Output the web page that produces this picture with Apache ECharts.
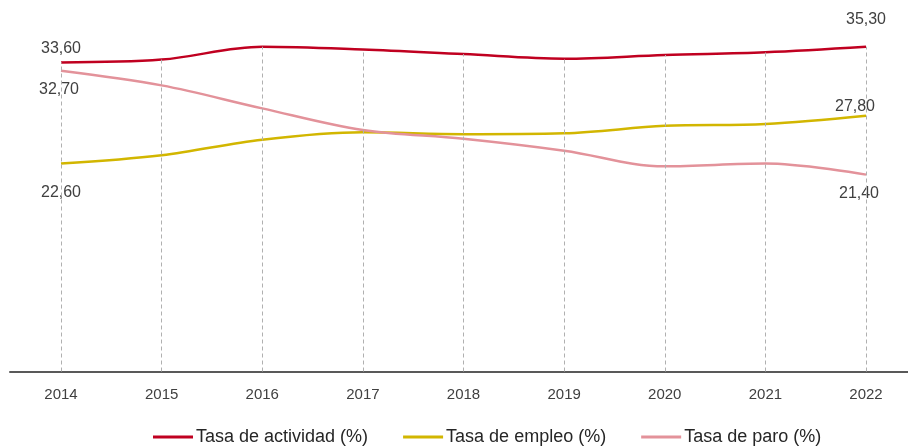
<!DOCTYPE html>
<html><head><meta charset="utf-8">
<script src="https://cdn.jsdelivr.net/npm/echarts@6/dist/echarts.min.js"></script>
<style>html,body{margin:0;padding:0;background:#fff}#c{width:908px;height:448px}</style>
</head><body><div id="c"></div>
<script>
const years = ['2014','2015','2016','2017','2018','2019','2020','2021','2022'];
const actividad = [33.6, 33.9, 35.3, 35.0, 34.5, 34.0, 34.4, 34.7, 35.3];
const empleo    = [22.6, 23.5, 25.2, 26.0, 25.8, 25.9, 26.7, 26.9, 27.8];
const paro      = [32.7, 31.1, 28.6, 26.25, 25.3, 24.0, 22.3, 22.6, 21.4];
const names = ['Tasa de actividad (%)', 'Tasa de empleo (%)', 'Tasa de paro (%)'];
const colors = ['#C00020', '#D2B600', '#E3929A'];

const FONT = '"Liberation Sans Narrow", "Arial Narrow", "Liberation Sans", Arial, sans-serif';
const fmt = v => v.toFixed(2).replace('.', ',');

function withLabels(arr, first, last) {
  return arr.map((v, i) => {
    if (i === 0) return { value: v, label: Object.assign({ show: true }, first) };
    if (i === arr.length - 1) return { value: v, label: Object.assign({ show: true }, last) };
    return v;
  });
}
const labelBase = { formatter: p => fmt(p.value), color: '#404040', fontFamily: FONT, fontSize: 16 };

const chart = echarts.init(document.getElementById('c'));
chart.setOption({
  animation: false,
  textStyle: { fontFamily: FONT },
  grid: [
    { left: 61, right: 42, top: 3.5, height: 368, containLabel: false },
    { left: 10, right: 0, top: 3.5, height: 368, containLabel: false }
  ],
  xAxis: [
    {
      type: 'category', data: years, boundaryGap: false, gridIndex: 0,
      axisLine: { show: false },
      axisTick: { show: false },
      axisLabel: { color: '#404040', fontSize: 15, fontFamily: FONT, margin: 16 },
      splitLine: { show: false }
    },
    {
      type: 'category', data: years, gridIndex: 1,
      axisLine: { show: true, lineStyle: { color: '#595959', width: 2 } },
      axisTick: { show: false }, axisLabel: { show: false }, splitLine: { show: false }
    }
  ],
  yAxis: [
    { type: 'value', min: 0, max: 40, show: false, gridIndex: 0, splitLine: { show: false } },
    { type: 'value', min: 0, max: 40, show: false, gridIndex: 1, splitLine: { show: false } }
  ],
  legend: {
    data: names, top: 423, left: 148, icon: 'rect', itemWidth: 40, itemHeight: 3, itemGap: 35,
    textStyle: { color: '#262626', fontSize: 18, fontFamily: FONT, padding: [0, 0, 0, -2] }
  },
  series: [
    {
      name: 'drop', type: 'line', data: [], silent: true, z: 1,
      markLine: {
        silent: true, symbol: 'none', label: { show: false },
        lineStyle: { type: [4, 3], color: '#b0b0b0', width: 1 },
        data: years.map((y, i) => [{ coord: [i, 0] }, { coord: [i, actividad[i]] }])
      }
    },
    {
      name: names[0], type: 'line', smooth: 0.35, symbol: 'circle', symbolSize: 0, showSymbol: true, z: 3,
      lineStyle: { color: colors[0], width: 2.5 }, itemStyle: { color: colors[0] },
      data: withLabels(actividad,
        Object.assign({}, labelBase, { position: 'top', distance: 6 }),
        Object.assign({}, labelBase, { position: 'top', distance: 19 }))
    },
    {
      name: names[1], type: 'line', smooth: 0.35, symbol: 'circle', symbolSize: 0, showSymbol: true, z: 3,
      lineStyle: { color: colors[1], width: 2.5 }, itemStyle: { color: colors[1] },
      data: withLabels(empleo,
        Object.assign({}, labelBase, { position: 'bottom', distance: 21 }),
        Object.assign({}, labelBase, { position: 'top', distance: 1, offset: [-11, 0] }))
    },
    {
      name: names[2], type: 'line', smooth: 0.35, symbol: 'circle', symbolSize: 0, showSymbol: true, z: 3,
      lineStyle: { color: colors[2], width: 2.5 }, itemStyle: { color: colors[2] },
      data: withLabels(paro,
        Object.assign({}, labelBase, { position: 'bottom', distance: 11, offset: [-2, 0] }),
        Object.assign({}, labelBase, { position: 'bottom', distance: 11, offset: [-7, 0] }))
    }
  ]
});
</script></body></html>
